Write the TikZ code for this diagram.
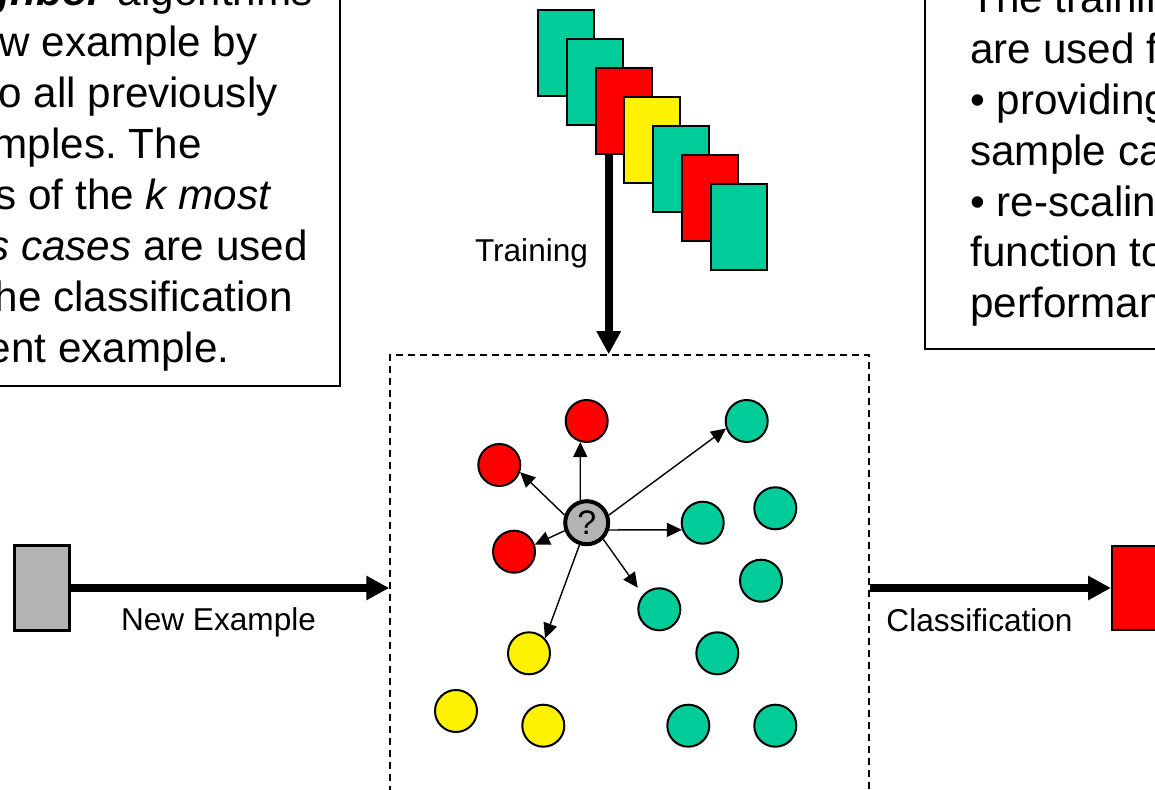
\documentclass[tikz,border=0pt]{standalone}
\usepackage{fontspec}
\setmainfont{Liberation Sans}
\usetikzlibrary{arrows.meta,fit}
\definecolor{casegreen}{HTML}{00CC99}
\definecolor{casegray}{HTML}{B3B3B3}
\frenchspacing

\begin{document}
\begin{tikzpicture}[x=0.5pt,y=-0.5pt,
    txt/.style={inner sep=0pt,font=\fontsize{21.1}{25}\selectfont},
    lbl/.style={inner sep=0pt,font=\fontsize{15.8}{19}\selectfont},
    textbox/.style={draw,line width=0.75pt,inner sep=0pt},
    card/.style={draw,line width=1pt,minimum width=28pt,minimum height=43pt,inner sep=0pt},
    case/.style={circle,draw,line width=1pt,minimum size=21pt,inner sep=0pt},
    bigarrow/.style={line width=3.8pt,-{Triangle[length=11.5pt,width=11.5pt]}},
    probe/.style={line width=0.7pt,-{Triangle[length=7.5pt,width=7pt]}}]
\useasboundingbox (0,0) rectangle (1155,790);
\clip (0,0) rectangle (1155,790);

% text boxes
\node[textbox,fit={(-20,-20) (340,386)}] (leftbox) {};
\node[txt,anchor=base east] (l1) at (313,6) {The \textbf{\textit{k-nearest neighbor}} algorithms};
\node[txt,anchor=base east] (l2) at (258,57) {classify a new example by};
\node[txt,anchor=base east] (l3) at (278,108) {comparing it to all previously};
\node[txt,anchor=base east] (l4) at (202,159) {seen examples. The};
\node[txt,anchor=base east] (l5) at (272,209.6) {classifications of the \textit{k most}};
\node[txt,anchor=base east] (l6) at (308,260.5) {\textit{similar previous cases} are used};
\node[txt,anchor=base east] (l7) at (293,311.4) {for predicting the classification};
\node[txt,anchor=base east] (l8) at (230,362.3) {of the current example.};

\node[textbox,fit={(925,-20) (1180,349)}] (rightbox) {};
\node[txt,anchor=base west] (t1) at (970,13) {The training examples};
\node[txt,anchor=base west] (t2) at (970,64) {are used for};
\node[txt,anchor=base west] (t3) at (970,115) {• providing a library of};
\node[txt,anchor=base west] (t4) at (970,166) {sample cases};
\node[txt,anchor=base west] (t5) at (970,217) {• re-scaling the similarity};
\node[txt,anchor=base west] (t6) at (970,267) {function to maximize};
\node[txt,anchor=base west] (t7) at (970,318) {performance};

% training cases
\foreach \c [count=\i from 0] in {casegreen,casegreen,red,yellow,casegreen,red,casegreen}
  \node[card,fill=\c] (card\i) at ({566+28.8*\i},{53.5+29*\i}) {};

% case space
\node[draw,dash pattern=on 3.5pt off 2.5pt,line width=0.75pt,inner sep=0pt,
      fit={(390,355) (869,850)}] (space) {};

\coordinate (tr) at ([xshift=-7.45pt]card2.south);
\draw[bigarrow] (tr) -- (tr |- space.north);
\node[lbl,anchor=base] (trlabel) at (531.5,262) {Training};

\node[case,fill=red] (r1) at (586.7,421) {};
\node[case,fill=red] (r2) at (499.3,465) {};
\node[case,fill=red] (r3) at (514,551.7) {};
\node[case,fill=casegreen] (g1) at (746.7,421) {};
\node[case,fill=casegreen] (g2) at (702.7,522.7) {};
\node[case,fill=casegreen] (g3) at (775.3,508.3) {};
\node[case,fill=casegreen] (g4) at (761,580.7) {};
\node[case,fill=casegreen] (g5) at (659.3,609.3) {};
\node[case,fill=casegreen] (g6) at (717.3,653.3) {};
\node[case,fill=casegreen] (g7) at (688.3,725.7) {};
\node[case,fill=casegreen] (g8) at (775.3,725.7) {};
\node[case,fill=yellow] (y1) at (529,653.3) {};
\node[case,fill=yellow] (y2) at (456,711) {};
\node[case,fill=yellow] (y3) at (543.3,725.7) {};
\node[case,fill=casegray,line width=2pt,minimum size=21.5pt,
      font=\fontsize{17}{18}\selectfont] (q) at (586.7,522.7) {?};

\draw[probe] (q.106) -- (r1.253);
\draw[probe] (q.161) -- (r2.341);
\draw[probe] (q.200) -- (r3.19);
\draw[probe] (q.19) -- (g1.200);
\draw[probe] (q.342) -- (g2.199);
\draw[probe] (q.315) -- ([shift={(-6,-6)}]g5.north west);
\draw[probe] (q.252) -- (y1.43);

% new example and result
\node[draw,fill=casegray,line width=1.5pt,minimum width=27.5pt,minimum height=42.5pt,
      inner sep=0pt] (newex) at (42,588) {};
\draw[bigarrow] (newex.east) -- (newex.east -| space.west);
\node[lbl,anchor=base] (nelabel) at (218.5,630) {New Example};

\node[draw,fill=red,line width=1pt,minimum width=34pt,minimum height=42pt,
      inner sep=0pt] (result) at (1146,588) {};
\draw[bigarrow] (space.east |- result.west) -- (result.west);
\node[lbl,anchor=base] (cllabel) at (979.5,631) {Classification};
\end{tikzpicture}
\end{document}
